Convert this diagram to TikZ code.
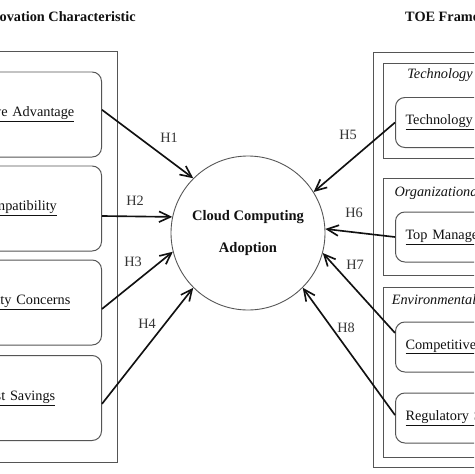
\documentclass[tikz,border=0pt]{standalone}
\usepackage{fontspec}
\setmainfont{Liberation Serif}
\usetikzlibrary{arrows.meta,positioning,calc}
\definecolor{Ink}{HTML}{111111}
\definecolor{Frame}{HTML}{555555}
\newcommand{\txtsize}{\fontsize{12.2pt}{14pt}\selectfont}
\newcommand{\hubsize}{\fontsize{12.4pt}{27pt}\selectfont}
\tikzset{
  frameline/.style={draw=Frame,line width=0.85pt},
  lbox/.style={frameline,rounded corners=8pt,minimum width=5.06cm,minimum height=2.55cm,
    anchor=east,align=center,text width=4.4cm,font=\txtsize,text=Ink},
  rbox/.style={frameline,rounded corners=8pt,minimum height=1.5cm,anchor=west,
    align=left,text width=3.8cm,inner xsep=0.3cm,font=\txtsize,text=Ink},
  grplbl/.style={font=\txtsize\itshape,text=Ink,inner sep=0pt},
  ttl/.style={font=\txtsize\bfseries,text=Ink,inner sep=0pt},
  hlbl/.style={font=\txtsize,text=Ink!85,inner sep=0pt},
  hyp/.style={-{Straight Barb[length=3.4mm,width=3.2mm]},line width=1.4pt,Ink},
}
\begin{document}
\begin{tikzpicture}[x=0.03cm,y=-0.03cm]
\useasboundingbox (0,0) rectangle (474,474);
\clip (0,0) rectangle (474,474);
\fill[white] (0,0) rectangle (474,474);
% titles
\node[ttl,anchor=east] (ictitle) at (136,17) {Innovation Characteristic};
\node[ttl,anchor=west] (toetitle) at (405,17) {TOE Framework};
% outer frames
\draw[frameline] (-80,51) rectangle (117,462);
\draw[frameline] (373,52) rectangle (520,467);
\draw[frameline] (383,63) rectangle (510,158);
\draw[frameline] (383,178) rectangle (510,275);
\draw[frameline] (383,287) rectangle (510,457);
\node[grplbl] (techlbl) at (440,75) {Technology};
\node[grplbl] (orglbl) at (438,193) {Organizational};
\node[grplbl] (envlbl) at (434,300) {Environmental};
% innovation characteristics
\node[lbox] (adv) at (102,114.5) {\underline{Relative Advantage}};
\node[lbox] (compat) at (102,208.5) {\underline{Compatibility}};
\node[lbox] (secur) at (102,302.5) {\underline{Security Concerns}};
\node[lbox] (cost) at (102,398) {\underline{Cost Savings}};
% TOE factors
\node[rbox] (techready) at (395,122.5) {\underline{Technology Readiness}};
\node[rbox] (topmgmt) at (395,237) {\underline{Top Management Support}};
\node[rbox] (compet) at (395,347) {\underline{Competitive Pressure}};
\node[rbox] (regul) at (395,418) {\underline{Regulatory Support}};
% adoption
\node[circle,draw=Frame,line width=0.75pt,minimum size=4.62cm,align=center,
  font=\hubsize\bfseries,text=Ink] (adopt) at (248,233) {Cloud Computing\\Adoption};
% hypotheses
\draw[hyp] ([yshift=4pt]adv.east) -- (adopt.135);
\draw[hyp] ([yshift=-6.4pt]compat.east) -- (adopt.168);
\draw[hyp] ([yshift=-5.5pt]secur.east) -- (adopt.194);
\draw[hyp] ([yshift=-5pt]cost.east) -- (adopt.225);
\draw[hyp] (techready.west) -- (adopt.32);
\draw[hyp] (topmgmt.west) -- (adopt.3);
\draw[hyp] ([yshift=12pt]compet.west) -- (adopt.-15);
\draw[hyp] ([yshift=2.5pt]regul.west) -- (adopt.-45);
\node[hlbl] (h1) at (169,138) {H1};
\node[hlbl] (h2) at (135,201) {H2};
\node[hlbl] (h3) at (133,262) {H3};
\node[hlbl] (h4) at (147,324) {H4};
\node[hlbl] (h5) at (348,135) {H5};
\node[hlbl] (h6) at (354,213) {H6};
\node[hlbl] (h7) at (355,265) {H7};
\node[hlbl] (h8) at (346,328) {H8};
\end{tikzpicture}
\end{document}
